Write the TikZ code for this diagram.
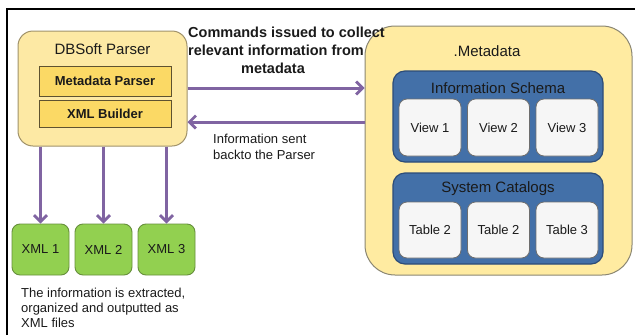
\documentclass[tikz,border=0pt]{standalone}
\usepackage{fontspec}
\setmainfont{Liberation Sans}
\usetikzlibrary{arrows.meta}

\definecolor{parserfill}{HTML}{FDE9A4}
\definecolor{parserline}{HTML}{A0926A}
\definecolor{modfill}{HTML}{FBD965}
\definecolor{modline}{HTML}{5E5230}
\definecolor{metafill}{HTML}{FFEBA1}
\definecolor{metaline}{HTML}{8A8672}
\definecolor{schemafill}{HTML}{4370A8}
\definecolor{schemaline}{HTML}{2C4C78}
\definecolor{itemfill}{HTML}{F6F6F6}
\definecolor{itemline}{HTML}{6E6E6E}
\definecolor{xmlfill}{HTML}{92D050}
\definecolor{xmlline}{HTML}{678F3C}
\definecolor{flow}{HTML}{8064A2}
\definecolor{ink}{HTML}{1A1A1A}

\newcommand{\fs}[2]{\fontsize{#1}{#2}\selectfont}

\tikzset{
  outerbox/.style={draw=parserline, fill=parserfill, line width=1pt,
    rounded corners=15pt, inner sep=0pt},
  modbox/.style={draw=modline, fill=modfill, line width=0.9pt,
    minimum width=132pt, inner sep=0pt, font=\fs{13}{15}\bfseries, text=ink},
  metabox/.style={draw=metaline, fill=metafill, line width=1pt,
    rounded corners=30pt, inner sep=0pt, minimum width=267pt, minimum height=249pt},
  groupbox/.style={draw=schemaline, fill=schemafill, line width=1.2pt,
    rounded corners=12pt, inner sep=0pt, minimum width=210pt, minimum height=91pt},
  grouptitle/.style={font=\fs{15}{18}, text=ink, inner sep=0pt},
  itembox/.style={draw=itemline, fill=itemfill, line width=0.8pt,
    rounded corners=8pt, inner sep=0pt, minimum width=62pt,
    font=\fs{13}{15}, text=ink},
  xmlbox/.style={draw=xmlline, fill=xmlfill, line width=0.9pt,
    rounded corners=8pt, inner sep=0pt, minimum width=57pt, minimum height=51pt,
    font=\fs{13}{15}, text=ink},
  flowarrow/.style={draw=flow, line width=3pt,
    -{Straight Barb[length=6.5pt,width=13pt,line width=2.8pt]}},
  note/.style={inner sep=0pt, align=left, text=ink},
}

\begin{document}
\begin{tikzpicture}[x=1pt, y=-1pt]
\useasboundingbox (0,0) rectangle (635,335);

% page frame (top and left edges)
\draw[line width=2pt, black] (7,335) -- (7,9) -- (635,9);

% parser block
\node[outerbox, minimum width=169pt, minimum height=115pt] (parser) at (102.5,88.5) {};
\node[inner sep=0pt, font=\fs{15}{18}, text=ink] (parsertitle) at (102.5,49) {DBSoft Parser};
\node[modbox, minimum height=30pt] (mparser) at (105,81) {Metadata Parser};
\node[modbox, minimum height=27pt] (xbuilder) at (105,113.5) {XML Builder};

% metadata store
\node[metabox] (meta) at (498.5,150.5) {};
\node[inner sep=0pt, font=\fs{15}{18}, text=ink] (metatitle) at (487,51) {.Metadata};

\node[groupbox] (schema) at (498,116.5) {};
\node[grouptitle] (schematitle) at (498,88) {Information Schema};
\node[itembox, minimum height=57pt] (v1) at (430,127.5) {View 1};
\node[itembox, minimum height=57pt] (v2) at (498.5,127.5) {View 2};
\node[itembox, minimum height=57pt] (v3) at (567,127.5) {View 3};

\node[groupbox] (catalog) at (498,218.5) {};
\node[grouptitle] (catalogtitle) at (498,189) {System Catalogs};
\node[itembox, minimum height=56pt] (t1) at (430,230) {Table 2};
\node[itembox, minimum height=56pt] (t2) at (498.5,230) {Table 2};
\node[itembox, minimum height=56pt] (t3) at (567,230) {Table 3};

% generated files
\node[xmlbox] (x1) at (40.5,249.5) {XML 1};
\node[xmlbox] (x2) at (103.5,249.5) {XML 2};
\node[xmlbox] (x3) at (166.5,249.5) {XML 3};

% request / response between parser and metadata
\coordinate (req) at (0,88);
\coordinate (resp) at (0,122);
\draw[flowarrow] (parser.east |- req) -- (meta.west |- req);
\draw[flowarrow] (meta.west |- resp) -- (parser.east |- resp);

% parser output to files
\draw[flowarrow] (x1.north |- parser.south) -- (x1.north);
\draw[flowarrow] (x2.north |- parser.south) -- (x2.north);
\draw[flowarrow] (x3.north |- parser.south) -- (x3.north);

% captions
\node[note, anchor=west, font=\fs{14.5}{18}\bfseries] (cmdnote) at (188,50)
  {Commands issued to collect\\relevant information from\\\hspace*{53pt}metadata};
\node[note, anchor=west, font=\fs{13}{16}] (backnote) at (213,147)
  {Information sent\\backto the Parser};
\node[note, anchor=west, font=\fs{13}{15}] (outnote) at (21,308)
  {The information is extracted,\\organized and outputted as\\XML files};

\end{tikzpicture}
\end{document}
